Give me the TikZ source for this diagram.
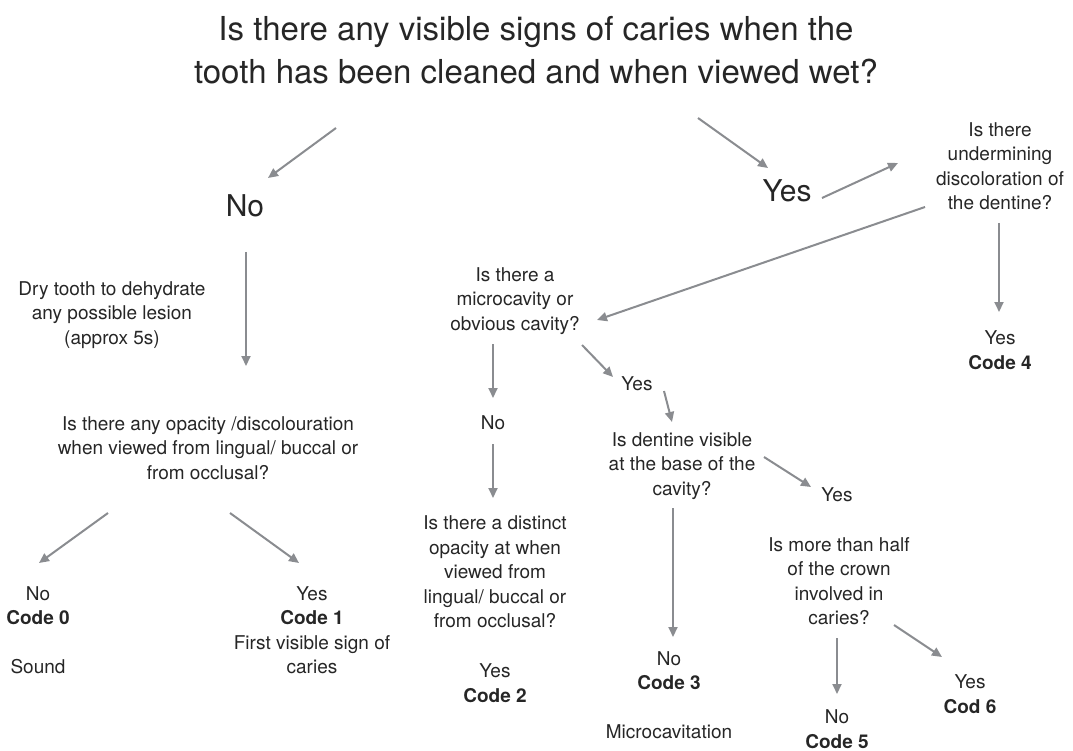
\documentclass[tikz,border=0pt]{standalone}
\usepackage{fontspec}
\setmainfont{TeX Gyre Heros}
\usepackage{xcolor}
\usepackage{tikz}
\usetikzlibrary{arrows.meta}
\definecolor{arrowgray}{HTML}{8A8C90}
\definecolor{inkgray}{HTML}{262626}
\tikzset{
  txt/.style={inner sep=0pt, align=center, text=inkgray,
    font=\fontsize{19}{24.5}\selectfont},
  big/.style={inner sep=0pt, text=inkgray, font=\fontsize{30}{36}\selectfont},
  ttl/.style={inner sep=0pt, align=center, text=inkgray,
    font=\fontsize{33}{42.5}\selectfont},
  arr/.style={draw=arrowgray, line width=2pt,
    -{Triangle[length=10pt,width=9pt]}}
}

\begin{document}
\begin{tikzpicture}[x=1pt,y=-1pt]
    \useasboundingbox (0,0) rectangle (1073,751);
    \node[ttl] (title) at (536,50)
      {Is there any visible signs of caries when the\\
       tooth has been cleaned and when viewed wet?};
    \node[big] (noB) at (245,206) {No};
    \node[big] (yesB) at (787,191) {Yes};
    \node[txt] (dry) at (112,315)
      {Dry tooth to dehydrate\\any possible lesion\\(approx 5s)};
    \node[txt] (opq) at (208,448)
      {Is there any opacity /discolouration\\when viewed from lingual/ buccal or\\from occlusal?};
    \node[txt] (code0) at (38,630) {No\\\textbf{Code 0}\\~\\Sound};
    \node[txt] (code1) at (312,630)
      {Yes\\\textbf{Code 1}\\First visible sign of\\caries};
    \node[txt] (undm) at (1000,166)
      {Is there\\undermining\\discoloration of\\the dentine?};
    \node[txt] (code4) at (1000,350) {Yes\\\textbf{Code 4}};
    \node[txt] (mcav) at (515,301)
      {Is there a\\microcavity or\\obvious cavity?};
    \node[txt] (noMc) at (493,423) {No};
    \node[txt] (dist) at (495,572)
      {Is there a distinct\\opacity at when\\viewed from\\lingual/ buccal or\\from occlusal?};
    \node[txt] (code2) at (495,683) {Yes\\\textbf{Code 2}};
    \node[txt] (yesMc) at (637,384) {Yes};
    \node[txt] (dent) at (682,466)
      {Is dentine visible\\at the base of the\\cavity?};
    \node[txt] (code3) at (669,695) {No\\\textbf{Code 3}\\~\\Microcavitation};
    \node[txt] (yesDt) at (837,495) {Yes};
    \node[txt] (half) at (839,581)
      {Is more than half\\of the crown\\involved in\\caries?};
    \node[txt] (code5) at (837,729) {No\\\textbf{Code 5}};
    \node[txt] (code6) at (970,694) {Yes\\\textbf{Cod 6}};

    \draw[arr] ([shift={(-200,78)}]title.center) -- ([shift={(23,-28)}]noB.center);
    \draw[arr] ([shift={(162,68)}]title.center) -- ([shift={(-19,-23)}]yesB.center);
    \draw[arr] ([shift={(35,7)}]yesB.center) -- ([shift={(-102,-3)}]undm.center);
    \draw[arr] ([shift={(-75,41)}]undm.center) -- ([shift={(82,19)}]mcav.center);
    \draw[arr] ([shift={(-1,57)}]undm.center) -- ([shift={(-1,-38)}]code4.center);
    \draw[arr] ([shift={(1,46)}]noB.center) -- ([shift={(38,-82)}]opq.center);
    \draw[arr] ([shift={(-100,65)}]opq.center) -- ([shift={(1,-67)}]code0.center);
    \draw[arr] ([shift={(22,65)}]opq.center) -- ([shift={(-13,-67)}]code1.center);
    \draw[arr] ([shift={(-22,43)}]mcav.center) -- ([shift={(0,-25)}]noMc.center);
    \draw[arr] ([shift={(0,21)}]noMc.center) -- ([shift={(-2,-74)}]dist.center);
    \draw[arr] ([shift={(67,44)}]mcav.center) -- ([shift={(-24,-7)}]yesMc.center);
    \draw[arr] ([shift={(27,7)}]yesMc.center) -- ([shift={(-10,-44)}]dent.center);
    \draw[arr] ([shift={(-9,42)}]dent.center) -- ([shift={(4,-58)}]code3.center);
    \draw[arr] ([shift={(82,-9)}]dent.center) -- ([shift={(-26,-8)}]yesDt.center);
    \draw[arr] ([shift={(-2,57)}]half.center) -- ([shift={(0,-35)}]code5.center);
    \draw[arr] ([shift={(55,44)}]half.center) -- ([shift={(-28,-37)}]code6.center);
\end{tikzpicture}
\end{document}
